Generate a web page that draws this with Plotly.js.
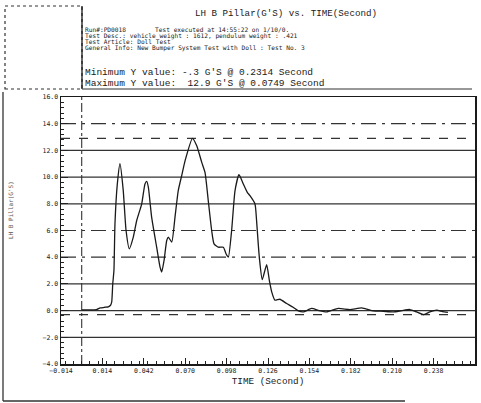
<!DOCTYPE html>
<html>
<head>
<meta charset="utf-8">
<script src="https://cdn.plot.ly/plotly-3.0.1.min.js"></script>
<style>html,body{margin:0;padding:0;background:#fff;}#chart{width:481px;height:403px;}</style>
</head>
<body>
<div id="chart"></div>
<script>
// ---- data ----
const timeSec = [0, 0.005, 0.010, 0.0125, 0.0155, 0.018, 0.0195, 0.0203, 0.0210, 0.0218, 0.0225, 0.0241, 0.0259,
  0.0281, 0.0300, 0.0322, 0.0349, 0.0372, 0.0406, 0.0428, 0.0440, 0.0451, 0.0473, 0.0507, 0.0530, 0.0541,
  0.0557, 0.0575, 0.0586, 0.0609, 0.0631, 0.0653, 0.0676, 0.0699, 0.0749, 0.0778, 0.0812, 0.0834, 0.0856,
  0.0879, 0.0895, 0.0924, 0.0958, 0.0976, 0.0992, 0.1014, 0.1037, 0.1064, 0.1093, 0.1120, 0.1138, 0.1172,
  0.1183, 0.1194, 0.1203, 0.1221, 0.1251, 0.1270, 0.1285, 0.1307, 0.1340, 0.1386, 0.1430, 0.1465, 0.1499,
  0.1555, 0.1605, 0.1657, 0.1735, 0.1815, 0.1894, 0.1972, 0.2040, 0.2108, 0.2165, 0.2220, 0.2265, 0.2314,
  0.2355, 0.2401, 0.2440, 0.2477];
const gValues = [0.05, 0.06, 0.08, 0.20, 0.25, 0.28, 0.40, 0.65, 2.0, 3.0, 6.5, 9.49, 11.0,
  8.99, 6.0, 4.63, 5.5, 6.75, 8.0, 9.49, 9.68, 9.23, 7.0, 4.75, 3.26, 2.89,
  3.76, 5.25, 5.5, 5.13, 7.0, 8.99, 10.1, 11.22, 12.9, 12.34, 11.1, 10.35, 8.24,
  6.0, 5.0, 4.75, 4.75, 4.26, 4.0, 6.0, 8.99, 10.18, 9.49, 8.86, 8.61, 7.99,
  6.7, 5.0, 3.8, 2.32, 3.44, 2.2, 1.4, 0.78, 0.85, 0.53, 0.25, -0.02, -0.1,
  0.16, 0.0, -0.1, 0.16, 0.08, 0.2, -0.02, -0.05, -0.1, 0.0, 0.08, -0.1, -0.3,
  -0.1, 0.03, -0.08, -0.14];
const gridLevels = [14, 12, 10, 8, 6, 4, 2, 0, -2];
const gridDashes = ['longdashdot', 'solid', 'solid', 'solid', 'longdashdot', 'longdashdot', 'solid', 'solid', 'solid'];
const chartTitle = "LH B Pillar(G'S) vs. TIME(Second)";
const headerLines = [
  "Test Desc.: vehicle weight : 1612, pendulum weight : .421",
  "Test Article: Doll Test",
  "General Info: New Bumper System Test with Doll : Test No. 3"
];
const runText = "Run#:PD0018";
const execText = "Test executed at 14:55:22 on 1/10/0.";
const minText = "Minimum Y value: -.3 G'S @ 0.2314 Second";
const maxText = "Maximum Y value: \u00A012.9 G'S @ 0.0749 Second";
const xTitle = "TIME (Second)";
const yTitle = "LH B Pillar(G'S)";

// ---- layout helpers (pixel -> paper) ----
const L = 61, R = 475, T = 97, B = 364;
const P = xp => (xp - L) / (R - L);
const Q = yp => (B - yp) / (B - T);

const yMax = Math.max(...gValues);
const yMin = Math.min(...gValues);

const ink = '#1a1a1a';
const shapes = [];
gridLevels.forEach((v, i) => {
  shapes.push({type: 'line', xref: 'paper', yref: 'y', x0: 0, x1: 1, y0: v, y1: v,
    line: {color: '#333', width: 1.2, dash: gridDashes[i]}, layer: 'below'});
});
[yMax, yMin].forEach(v => shapes.push({type: 'line', xref: 'paper', yref: 'y', x0: 0, x1: 1, y0: v, y1: v,
  line: {color: '#333', width: 1.2, dash: 'dash'}, layer: 'below'}));
shapes.push({type: 'line', xref: 'x', yref: 'paper', x0: 0, x1: 0, y0: 0, y1: 1,
  line: {color: '#333', width: 1.1, dash: 'dashdot'}, layer: 'below'});
// header frame
shapes.push({type: 'rect', xref: 'paper', yref: 'paper', x0: P(5), x1: P(82), y0: Q(89), y1: Q(6),
  line: {color: '#333', width: 1.2, dash: 'dot'}});
shapes.push({type: 'line', xref: 'paper', yref: 'paper', x0: P(82), x1: P(82), y0: Q(89), y1: Q(6),
  line: {color: ink, width: 1.3}});
shapes.push({type: 'line', xref: 'paper', yref: 'paper', x0: P(82), x1: P(472), y0: Q(89), y1: Q(89),
  line: {color: '#333', width: 1.2}});
// outer chart frame (left + bottom)
shapes.push({type: 'line', xref: 'paper', yref: 'paper', x0: P(3), x1: P(3), y0: Q(92), y1: Q(401),
  line: {color: '#333', width: 1.3}});
shapes.push({type: 'line', xref: 'paper', yref: 'paper', x0: P(3), x1: P(405), y0: Q(401), y1: Q(401),
  line: {color: '#333', width: 1.3}});

const mono = 'Liberation Mono, DejaVu Sans Mono, monospace';
const small = {family: 'DejaVu Sans Mono', size: 6.2, color: ink};
const annotations = [
  {text: chartTitle, x: P(286), y: Q(14), xanchor: 'center', yanchor: 'middle', font: {family: mono, size: 9.2, color: ink}},
  {text: runText, x: P(83), y: Q(29), xanchor: 'left', yanchor: 'middle', font: small},
  {text: execText, x: P(153), y: Q(29), xanchor: 'left', yanchor: 'middle', font: small},
  {text: headerLines[0], x: P(83), y: Q(35.5), xanchor: 'left', yanchor: 'middle', font: small},
  {text: headerLines[1], x: P(83), y: Q(42), xanchor: 'left', yanchor: 'middle', font: small},
  {text: headerLines[2], x: P(83), y: Q(48.5), xanchor: 'left', yanchor: 'middle', font: small},
  {text: minText, x: P(83), y: Q(72), xanchor: 'left', yanchor: 'middle', font: {family: mono, size: 9.5, color: ink}},
  {text: maxText, x: P(83), y: Q(83), xanchor: 'left', yanchor: 'middle', font: {family: mono, size: 9.5, color: ink}},
  {text: yTitle, x: P(10), y: Q(210), xanchor: 'center', yanchor: 'middle', textangle: -90,
    font: {family: 'DejaVu Sans Mono', size: 6, color: '#555'}}
].map(a => Object.assign({xref: 'paper', yref: 'paper', showarrow: false}, a));

const trace = {
  x: timeSec, y: gValues, type: 'scatter', mode: 'lines',
  line: {color: ink, width: 1.3, shape: 'spline', smoothing: 0.5},
  hoverinfo: 'x+y'
};

const tickFont = {family: 'DejaVu Sans Mono', size: 6.5, color: '#222'};
const layout = {
  width: 481, height: 403,
  margin: {l: L, r: 481 - R, t: T, b: 403 - B},
  paper_bgcolor: '#fff', plot_bgcolor: '#fff',
  showlegend: false,
  xaxis: {
    range: [-0.014, 0.266], tickmode: 'linear', tick0: -0.014, dtick: 0.028, tickformat: '.3f',
    ticks: 'inside', ticklen: 6, tickcolor: '#222', tickwidth: 1,
    showline: true, linecolor: ink, linewidth: 1.5, mirror: true,
    showgrid: false, zeroline: false, tickfont: tickFont,
    minor: {dtick: 0.0056, ticks: 'inside', ticklen: 3, tickcolor: '#222', showgrid: false},
    title: {text: xTitle, font: {family: mono, size: 9.3, color: ink}, standoff: 3},
    automargin: false
  },
  yaxis: {
    range: [-4, 16], tickmode: 'linear', tick0: -4, dtick: 2, tickformat: '.1f',
    ticks: 'inside', ticklen: 7, tickcolor: '#222', tickwidth: 1,
    showline: true, linecolor: ink, linewidth: 1.5, mirror: true,
    showgrid: false, zeroline: false, tickfont: tickFont,
    minor: {dtick: 0.4, ticks: 'inside', ticklen: 3, tickcolor: '#222', showgrid: false},
    automargin: false
  },
  shapes: shapes,
  annotations: annotations
};

Plotly.newPlot('chart', [trace], layout, {displayModeBar: false, staticPlot: true});
</script>
</body>
</html>
